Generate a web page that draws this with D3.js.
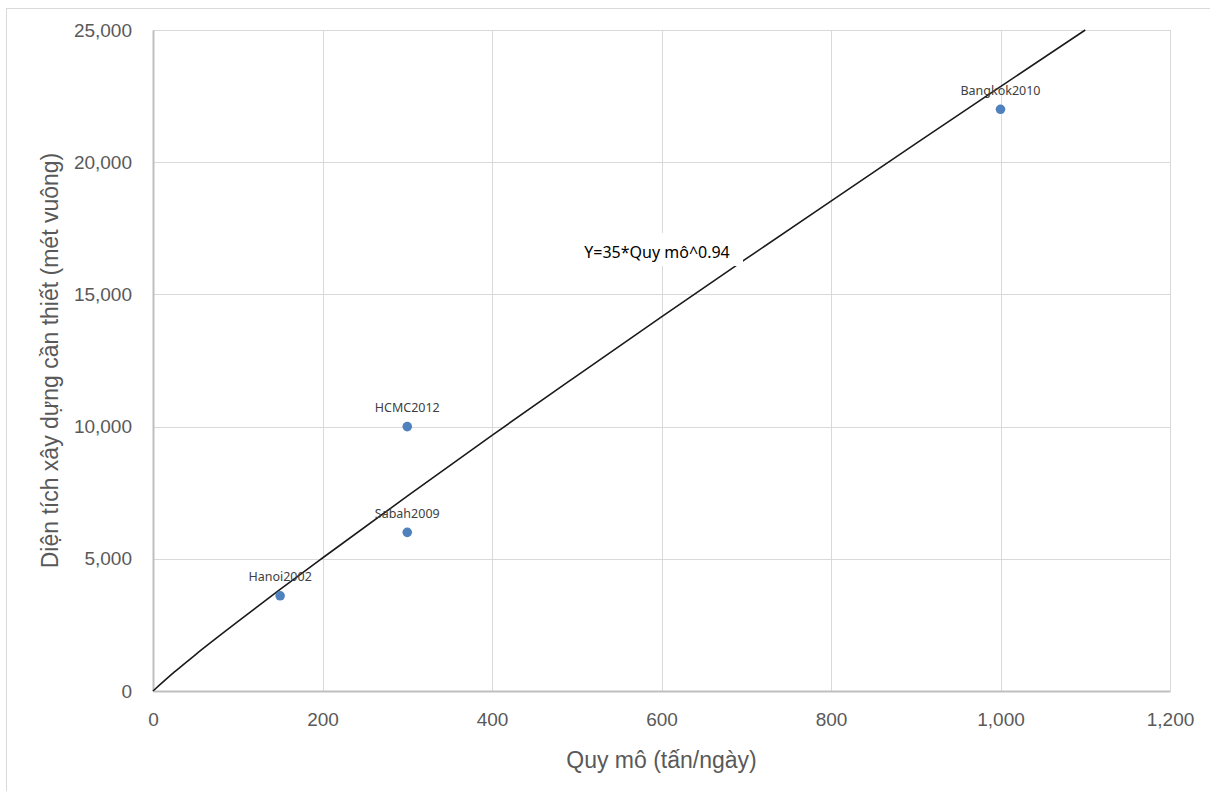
<!DOCTYPE html>
<html><head><meta charset="utf-8">
<script src="https://cdn.jsdelivr.net/npm/d3@7"></script>
<style>body{margin:0;background:#fff;}svg{display:block;}</style>
</head><body>
<svg id="c" width="1210" height="791"></svg>
<script>
const pointNames = ["Hanoi2002", "HCMC2012", "Sabah2009", "Bangkok2010"];
const pointX = [150, 300, 300, 1000];
const pointY = [3600, 10000, 6000, 22000];
// trend curve
const curveX = [0, 25, 50, 100, 150, 200, 300, 400, 500, 600, 700, 800, 900, 1000, 1100];
const curveY = [0, 710, 1370, 2620, 3840, 5030, 7370, 9670, 11920, 14150, 16350, 18530, 20700, 22860, 25000];
const xTicks = [0, 200, 400, 600, 800, 1000, 1200];
const yTicks = [0, 5000, 10000, 15000, 20000, 25000];
const equationText = "Y=35*Quy mô^0.94";
const xTitle = "Quy mô (tấn/ngày)";
const yTitle = "Diện tích xây dựng cần thiết (mét vuông)";

const svg = d3.select("#c");
const L = 153, R = 1170, T = 30, B = 691;
const x = d3.scaleLinear().domain([0, 1200]).range([L, R]);
const y = d3.scaleLinear().domain([0, 25000]).range([B, T]);
const fmt = d3.format(",");

// outer border
svg.append("rect").attr("x", 6.5).attr("y", 8.5).attr("width", 1300).attr("height", 900)
  .attr("fill", "none").attr("stroke", "#d9d9d9").attr("stroke-width", 1);

// grid
svg.append("g").selectAll("line").data(xTicks.slice(1)).join("line")
  .attr("x1", d => Math.round(x(d)) + 0.5).attr("x2", d => Math.round(x(d)) + 0.5)
  .attr("y1", T).attr("y2", B).attr("stroke", "#d9d9d9").attr("stroke-width", 1);
svg.append("g").selectAll("line").data(yTicks.slice(1)).join("line")
  .attr("y1", d => Math.round(y(d)) + 0.5).attr("y2", d => Math.round(y(d)) + 0.5)
  .attr("x1", L).attr("x2", R).attr("stroke", "#d9d9d9").attr("stroke-width", 1);

// axes
const xAxis = svg.append("g").attr("transform", `translate(0,${B})`)
  .call(d3.axisBottom(x).tickValues(xTicks).tickFormat(fmt).tickSize(0).tickPadding(22));
const yAxis = svg.append("g").attr("transform", `translate(${L},0)`)
  .call(d3.axisLeft(y).tickValues(yTicks).tickFormat(fmt).tickSize(0).tickPadding(21));
[xAxis, yAxis].forEach(g => {
  g.select(".domain").attr("stroke", "#bfbfbf").attr("stroke-width", 2);
  g.selectAll("text").attr("fill", "#595959").style("font-family", "Liberation Sans, Arial, sans-serif").style("font-size", "19px");
});
xAxis.selectAll("text").attr("dy", "0.71em");

// curve
const line = d3.line().x((d, i) => x(curveX[i])).y(d => y(d)).curve(d3.curveMonotoneX);
svg.append("path").datum(curveY).attr("d", line)
  .attr("fill", "none").attr("stroke", "#1a1a1a").attr("stroke-width", 1.6);

// equation label with white box
const eqX = 657, eqY = 252;
svg.append("rect").attr("x", 572).attr("y", 233).attr("width", 171).attr("height", 33).attr("fill", "#fff");
svg.append("text").attr("x", eqX).attr("y", eqY).attr("text-anchor", "middle").attr("dy", "0.35em")
  .style("font-family", "Noto Sans, sans-serif").style("font-size", "16px").attr("fill", "#000").text(equationText);

// points
const pts = pointNames.map((n, i) => ({ n, x: pointX[i], y: pointY[i] }));
svg.append("g").selectAll("circle").data(pts).join("circle")
  .attr("cx", d => x(d.x)).attr("cy", d => y(d.y)).attr("r", 4.8).attr("fill", "#4f81bd");
svg.append("g").selectAll("text").data(pts).join("text")
  .attr("x", d => x(d.x)).attr("y", d => y(d.y) - 19).attr("dy", "0.35em").attr("text-anchor", "middle")
  .style("font-family", "Noto Sans, sans-serif").style("font-size", "12.5px").attr("fill", "#404040").text(d => d.n);

// axis titles
svg.append("text").attr("x", (L + R) / 2).attr("y", 760).attr("dy", "0.35em").attr("text-anchor", "middle")
  .style("font-family", "Liberation Sans, Arial, sans-serif").style("font-size", "23px").attr("fill", "#595959").text(xTitle);
svg.append("text").attr("transform", `translate(50,${(T + B) / 2}) rotate(-90)`).attr("dy", "0.35em").attr("text-anchor", "middle")
  .style("font-family", "Liberation Sans, Arial, sans-serif").style("font-size", "23px").attr("fill", "#595959").text(yTitle);
</script>
</body></html>
